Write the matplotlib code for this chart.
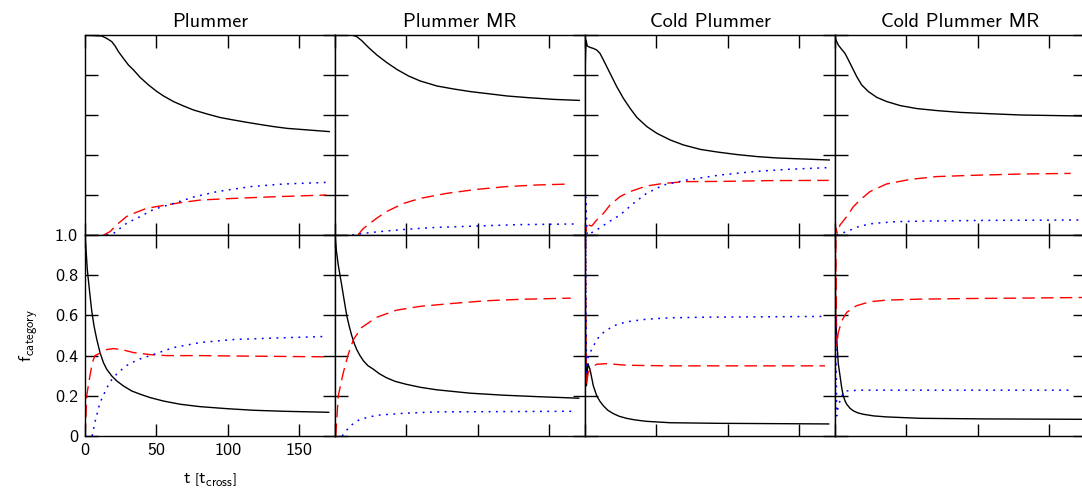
import matplotlib
matplotlib.use("Agg")
import matplotlib.pyplot as plt

plt.rcParams['font.family'] = 'cmss10'
plt.rcParams['mathtext.fontset'] = 'custom'
plt.rcParams['mathtext.rm'] = 'cmss10'
plt.rcParams['mathtext.it'] = 'cmss10'
plt.rcParams['mathtext.bf'] = 'cmss10'
plt.rcParams['axes.formatter.use_mathtext'] = True

titles = ["Plummer", "Plummer MR", "Cold Plummer", "Cold Plummer MR"]
xticks = [0, 50, 100, 150]
xtick_labels = ["0", "50", "100", "150"]
yticks = [0, 0.2, 0.4, 0.6, 0.8, 1.0]
ytick_labels = ["0", "0.2", "0.4", "0.6", "0.8", "1.0"]

# Plummer, upper row
p_up_k_t = [0, 11.7, 15.2, 18.7, 21.1, 23.4, 26.9, 30.4, 34, 38.6, 44.5, 50.4, 55, 62, 69, 76,
            85.5, 94.8, 104, 113.6, 123, 132, 141.7, 151, 160, 171]
p_up_k_f = [1.0, 0.995, 0.983, 0.967, 0.945, 0.917, 0.883, 0.85, 0.825, 0.788, 0.75, 0.717, 0.695,
            0.667, 0.645, 0.625, 0.605, 0.587, 0.575, 0.563, 0.552, 0.542, 0.533, 0.528, 0.523, 0.517]
p_up_r_t = [13, 17.6, 22, 29, 34, 43, 50, 67, 81, 104, 128, 169]
p_up_r_f = [0, 0.017, 0.05, 0.092, 0.108, 0.133, 0.142, 0.162, 0.175, 0.183, 0.19, 0.2]
p_up_b_t = [15, 20, 29, 38.6, 48, 62, 76, 92.5, 116, 139, 169]
p_up_b_f = [0, 0.008, 0.058, 0.092, 0.128, 0.158, 0.19, 0.217, 0.242, 0.255, 0.263]

# Plummer, lower row
p_lo_k_t = [0, 0.7, 1.6, 2.3, 3.5, 4.7, 6.3, 8.2, 10.5, 12.9, 15.2, 18.7, 22.2, 26.9, 32.7, 38.6,
            45.6, 54.9, 66.6, 80.6, 99.3, 118, 139, 170.6]
p_lo_k_f = [1.0, 0.93, 0.83, 0.78, 0.70, 0.623, 0.548, 0.482, 0.415, 0.365, 0.332, 0.299, 0.274,
            0.249, 0.224, 0.208, 0.191, 0.174, 0.158, 0.146, 0.136, 0.128, 0.123, 0.118]
p_lo_r_t = [0, 0.5, 1.2, 2.3, 3.5, 5.1, 7, 10.5, 15.2, 19.9, 25.7, 33.9, 45.6, 57, 80, 104, 135, 168]
p_lo_r_f = [0, 0.066, 0.2, 0.25, 0.3, 0.365, 0.4, 0.412, 0.43, 0.435, 0.43, 0.415, 0.405, 0.40,
            0.40, 0.398, 0.396, 0.394]
p_lo_b_t = [5, 7, 10.5, 14, 17.5, 23, 29, 37, 45.6, 62, 80.6, 104, 135, 168]
p_lo_b_f = [0, 0.07, 0.166, 0.22, 0.27, 0.315, 0.35, 0.38, 0.40, 0.44, 0.465, 0.48, 0.488, 0.495]

# Plummer MR, upper row
pm_up_k_t = [0, 11.7, 15.2, 18.7, 23.4, 29.3, 36.3, 43.3, 51.5, 59.7, 71.4, 83.1, 94.8, 106.6,
             120.6, 134.7, 153.4, 171]
pm_up_k_f = [1.0, 1.0, 0.992, 0.972, 0.938, 0.9, 0.862, 0.828, 0.795, 0.77, 0.745, 0.73, 0.717,
             0.707, 0.695, 0.687, 0.678, 0.673]
pm_up_r_t = [16, 19.9, 29, 36, 48, 59.6, 78, 99, 120, 141, 165]
pm_up_r_f = [0, 0.033, 0.083, 0.117, 0.158, 0.183, 0.208, 0.228, 0.242, 0.25, 0.255]
pm_up_b_t = [12, 24.5, 36, 52.6, 71, 99, 130, 167]
pm_up_b_f = [0, 0.012, 0.02, 0.03, 0.038, 0.045, 0.052, 0.055]

# Plummer MR, lower row
pm_lo_k_t = [0, 1, 2.3, 3.5, 4.7, 6.3, 8.2, 10, 11.7, 13.5, 15.2, 17.5, 19.9, 23, 26.9, 31, 36,
             42, 50, 60, 71, 94.6, 118, 141, 170.6]
pm_lo_k_f = [1.0, 0.92, 0.85, 0.80, 0.75, 0.68, 0.6, 0.545, 0.5, 0.46, 0.43, 0.40, 0.374, 0.35,
             0.332, 0.31, 0.29, 0.272, 0.257, 0.242, 0.23, 0.213, 0.203, 0.196, 0.188]
pm_lo_r_t = [0.5, 2.3, 5.8, 9.3, 12.9, 18.7, 29, 43, 59.6, 83, 106, 130, 165]
pm_lo_r_f = [0, 0.2, 0.315, 0.407, 0.48, 0.54, 0.59, 0.626, 0.645, 0.66, 0.673, 0.68, 0.686]
pm_lo_b_t = [5, 10.5, 17.5, 29, 48, 71, 106, 167]
pm_lo_b_f = [0, 0.05, 0.083, 0.103, 0.113, 0.12, 0.121, 0.123]

# Cold Plummer, upper row
c_up_k_t = [0, 0.7, 1.6, 3.5, 5.8, 8.2, 10.5, 12.9, 15.2, 18.7, 22.2, 26.9, 31.6, 36.3, 43.3,
            50.4, 59.7, 69, 80.8, 92.5, 106.6, 120.6, 134.7, 153, 171]
c_up_k_f = [0.8, 0.975, 0.945, 0.938, 0.933, 0.925, 0.908, 0.875, 0.842, 0.792, 0.742, 0.683,
            0.633, 0.588, 0.542, 0.508, 0.475, 0.45, 0.428, 0.415, 0.402, 0.392, 0.385, 0.38, 0.375]
c_up_r_t = [0, 0.5, 1, 2.3, 4.7, 8.2, 12.9, 17.5, 24.5, 31.5, 43, 55, 71, 94.6, 130, 170.6]
c_up_r_f = [0, 0.04, 0.02, 0.05, 0.045, 0.075, 0.108, 0.15, 0.192, 0.217, 0.245, 0.258, 0.267,
            0.268, 0.272, 0.273]
c_up_b_t = [0, 0.5, 1.5, 8.2, 15, 24.5, 33.9, 43, 55, 71, 94.6, 118, 141, 170.6]
c_up_b_f = [0, 0.19, 0, 0.025, 0.058, 0.1, 0.158, 0.208, 0.25, 0.275, 0.3, 0.317, 0.328, 0.337]

# Cold Plummer, lower row
c_lo_k_t = [0, 0.4, 1, 2, 3.5, 5.8, 8.2, 10.5, 12.9, 16, 19.9, 24, 29, 35, 43, 59.6, 94.6, 170.6]
c_lo_k_f = [1.0, 0.5, 0.25, 0.36, 0.332, 0.25, 0.2, 0.172, 0.15, 0.128, 0.111, 0.098, 0.088,
            0.08, 0.073, 0.066, 0.063, 0.06]
c_lo_r_t = [0, 0.3, 0.8, 2.3, 4.7, 8.2, 15.2, 29, 59.6, 106, 168]
c_lo_r_f = [0, 1.0, 0.25, 0.316, 0.34, 0.357, 0.36, 0.352, 0.349, 0.349, 0.349]
c_lo_b_t = [0, 0.5, 1, 2.3, 4.7, 8.2, 12.9, 19.9, 29, 43, 59.6, 83, 168]
c_lo_b_f = [0, 1.0, 0.3, 0.4, 0.43, 0.48, 0.515, 0.548, 0.568, 0.581, 0.588, 0.591, 0.595]

# Cold Plummer MR, upper row
cm_up_k_t = [0, 0.7, 2.3, 4.7, 7, 9.4, 11.7, 15.2, 18.7, 23.4, 29.3, 36.3, 45.7, 57.4, 71.4,
             87.8, 106.6, 130, 173]
cm_up_k_f = [1.0, 0.975, 0.95, 0.928, 0.908, 0.875, 0.842, 0.792, 0.75, 0.717, 0.688, 0.667,
             0.647, 0.632, 0.622, 0.613, 0.607, 0.6, 0.595]
cm_up_r_t = [0, 0.7, 1.5, 3.5, 8.2, 12.9, 17.5, 24.5, 36, 52.6, 71, 94.6, 130, 165]
cm_up_r_f = [0, 0.035, 0.01, 0.05, 0.092, 0.142, 0.175, 0.217, 0.255, 0.278, 0.292, 0.298,
             0.305, 0.308]
cm_up_b_t = [1, 8.2, 17.5, 27, 43, 66.6, 106, 173]
cm_up_b_f = [0, 0.017, 0.045, 0.058, 0.067, 0.07, 0.073, 0.075]

# Cold Plummer MR, lower row
cm_lo_k_t = [0, 0.5, 1.2, 2.3, 3.5, 4.7, 5.8, 7, 8.2, 10.5, 12.9, 16, 19.9, 27, 36, 59.6, 106, 173]
cm_lo_k_f = [1.0, 0.6, 0.48, 0.36, 0.3, 0.24, 0.2, 0.175, 0.158, 0.138, 0.125, 0.115, 0.108,
             0.1, 0.095, 0.088, 0.085, 0.083]
cm_lo_r_t = [0, 0.4, 1.2, 2.3, 4.7, 8.2, 15, 24.5, 36, 59.6, 94.6, 130, 173]
cm_lo_r_f = [0, 1.0, 0.45, 0.515, 0.573, 0.615, 0.648, 0.668, 0.676, 0.681, 0.684, 0.686, 0.689]
cm_lo_b_t = [0, 0.5, 1.2, 2.3, 4.7, 7, 17.5, 59.6, 167]
cm_lo_b_f = [0, 0.6, 0.1, 0.15, 0.2, 0.224, 0.228, 0.228, 0.228]

upper = [
    [(p_up_k_t, p_up_k_f), (p_up_r_t, p_up_r_f), (p_up_b_t, p_up_b_f)],
    [(pm_up_k_t, pm_up_k_f), (pm_up_r_t, pm_up_r_f), (pm_up_b_t, pm_up_b_f)],
    [(c_up_k_t, c_up_k_f), (c_up_r_t, c_up_r_f), (c_up_b_t, c_up_b_f)],
    [(cm_up_k_t, cm_up_k_f), (cm_up_r_t, cm_up_r_f), (cm_up_b_t, cm_up_b_f)],
]
lower = [
    [(p_lo_k_t, p_lo_k_f), (p_lo_r_t, p_lo_r_f), (p_lo_b_t, p_lo_b_f)],
    [(pm_lo_k_t, pm_lo_k_f), (pm_lo_r_t, pm_lo_r_f), (pm_lo_b_t, pm_lo_b_f)],
    [(c_lo_k_t, c_lo_k_f), (c_lo_r_t, c_lo_r_f), (c_lo_b_t, c_lo_b_f)],
    [(cm_lo_k_t, cm_lo_k_f), (cm_lo_r_t, cm_lo_r_f), (cm_lo_b_t, cm_lo_b_f)],
]

styles = [
    dict(color='black', linestyle='-', lw=1.0),
    dict(color='red', linestyle=(0, (9, 4.5)), lw=1.0),
    dict(color='blue', linestyle=(0, (1.2, 3.6)), lw=1.1),
]

W, H = 1082, 503
fig = plt.figure(figsize=(W / 100, H / 100), dpi=100)

left0 = 85
pw = 250
top_px = [35, 235]
ph = [200, 201]

for row, data in enumerate([upper, lower]):
    for col in range(4):
        x0 = left0 + col * pw
        ax = fig.add_axes([x0 / W, 1 - (top_px[row] + ph[row]) / H, pw / W, ph[row] / H])
        for (t, f), st in zip(data[col], styles):
            ax.plot(t, f, **st)
        ax.set_xlim(0, 175)
        ax.set_ylim(0, 1.0)
        ax.set_xticks(xticks)
        ax.set_yticks(yticks)
        ax.tick_params(direction='in', length=9, width=1, top=True, right=True,
                       labelsize=13, pad=5)
        for s in ax.spines.values():
            s.set_linewidth(1.0)
        if row == 1 and col == 0:
            ax.set_xticklabels(xtick_labels)
            ax.set_yticklabels(ytick_labels)
            ax.set_ylabel(r'$\mathrm{f}_{\mathrm{category}}$', fontsize=13, labelpad=10)
            ax.set_xlabel(r'$\mathrm{t}\ \left[\mathrm{t}_{\mathrm{cross}}\right]$', fontsize=13, labelpad=10)
        else:
            ax.set_xticklabels([])
            ax.set_yticklabels([])
        if row == 0:
            ax.set_title(titles[col], fontsize=14.5, pad=6)

fig.savefig('out.png', dpi=100)
